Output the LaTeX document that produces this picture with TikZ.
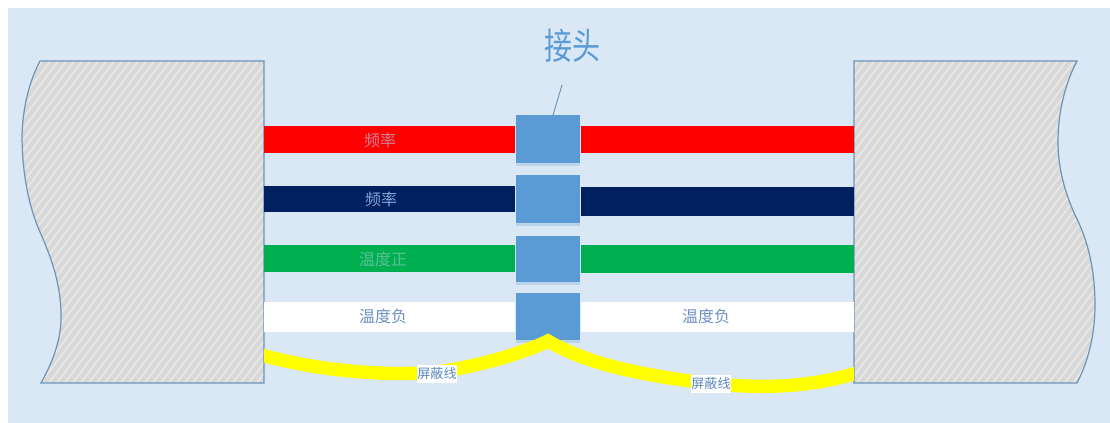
\documentclass[tikz,border=0pt]{standalone}
\usepackage{fontspec}
\newfontfamily\cjk{Noto Sans CJK SC}[Scale=1]
\usetikzlibrary{shadows}
\definecolor{bgc}{HTML}{DAE8F5}
\definecolor{blockc}{HTML}{5B9BD5}
\definecolor{edgec}{HTML}{6E93B8}
\definecolor{hatchbg}{HTML}{D8D8D8}
\definecolor{hatchln}{HTML}{E9E9E7}
\definecolor{navyc}{HTML}{002060}
\definecolor{greenc}{HTML}{00B050}
\definecolor{wirey}{HTML}{FFFF00}
\definecolor{smalltxt}{HTML}{5A88BE}
\newcommand{\boxat}[6]{%
  \node[#6,minimum width={(#4-#2)*0.75pt},minimum height={(#5-#3)*0.75pt}] (#1) at ({(#2+#4)/2},{(#3+#5)/2}) {};}
\tikzset{
  wirebox/.style={rectangle,inner sep=0pt,outer sep=0pt,draw=none},
  blockbox/.style={rectangle,inner sep=0pt,outer sep=0pt,fill=blockc,
    drop shadow={shadow xshift=0pt,shadow yshift=-2pt,fill=blockc,opacity=.25}},
  lab/.style={font=\cjk\fontsize{12pt}{14pt}\selectfont,inner sep=0pt},
  smalllab/.style={font=\cjk\fontsize{9.8pt}{12pt}\selectfont,inner xsep=0.5pt,inner ysep=2.5pt,fill=white,text=smalltxt},
  shield/.style={draw=wirey,line width=10pt,line cap=butt,line join=miter},
  outline/.style={draw=edgec,line width=0.9pt}
}
\begin{document}
\begin{tikzpicture}[x=0.75pt,y=-0.75pt]
\useasboundingbox (0,0) rectangle (1110,423);
\fill[white] (0,0) rectangle (1110,423);
\fill[bgc] (8,8) rectangle (1110,423);
\def\leftshape{(40,61) -- (264,61) -- (264,383) -- (41,383)
  .. controls (55,358) and (62,335) .. (61,312)
  .. controls (60,280) and (50,255) .. (40,232)
  .. controls (28,205) and (22,170) .. (22,135)
  .. controls (23,105) and (30,80) .. (40,61) -- cycle}
\def\rightshape{(854,61) -- (1077,61)
  .. controls (1067,80) and (1058,108) .. (1058,142)
  .. controls (1058,170) and (1066,195) .. (1075,215)
  .. controls (1088,240) and (1095,270) .. (1095,305)
  .. controls (1095,335) and (1088,362) .. (1077,383) -- (854,383) -- cycle}
\fill[hatchbg] \leftshape;
\begin{scope}
\clip \leftshape;
\foreach \i in {0,8,...,640}{\draw[hatchln,line width=1.1pt] ({\i-300},400) -- ++(300,-400);}
\end{scope}
\draw[outline] \leftshape;
\fill[hatchbg] \rightshape;
\begin{scope}
\clip \rightshape;
\foreach \i in {0,8,...,640}{\draw[hatchln,line width=1.1pt] ({\i+540},400) -- ++(300,-400);}
\end{scope}
\draw[outline] \rightshape;
% wires
\boxat{r1}{264}{126}{515}{153}{wirebox,fill=red}
\boxat{r2}{581}{126}{854}{153}{wirebox,fill=red}
\boxat{n1}{264}{186}{515}{212}{wirebox,fill=navyc}
\boxat{n2}{581}{187}{854}{216}{wirebox,fill=navyc}
\boxat{g1}{264}{245}{515}{272}{wirebox,fill=greenc}
\boxat{g2}{581}{245}{854}{273}{wirebox,fill=greenc}
\boxat{w1}{264}{302}{515}{332}{wirebox,fill=white}
\boxat{w2}{581}{302}{854}{332}{wirebox,fill=white}
% connector blocks
\boxat{b1}{516}{115}{580}{163}{blockbox}
\boxat{b2}{516}{175}{580}{223}{blockbox}
\boxat{b3}{516}{236}{580}{282}{blockbox}
\boxat{b4}{516}{293}{580}{340}{blockbox}
% shield wires, trimmed flush with the two end blocks
\coordinate (sl) at (258,354);
\coordinate (peak) at (548,341);
\coordinate (sr) at (860,372);
\begin{scope}
\clip (264,320) rectangle (854,410);
\draw[shield] (sl) .. controls (320,372) and (400,378) .. (450,370)
  .. controls (490,363) and (525,352) .. (peak)
  .. controls (590,366) and (650,376) .. (705,383)
  .. controls (770,390) and (815,386) .. (sr);
\end{scope}
% title
\node[font=\cjk\fontsize{21pt}{25pt}\selectfont,text=blockc,inner sep=0pt,yscale=1.3] (title) at (572,46) {接头};
\coordinate (lead) at (562,85);
\draw[edgec,line width=0.7pt] (lead) -- (b1.north -| 553,0);
% labels
\node[lab,text={rgb,255:red,205;green,130;blue,150}] (t1) at (380,140) {频率};
\node[lab,text={rgb,255:red,130;green,165;blue,215}] (t2) at (381,199) {频率};
\node[lab,text={rgb,255:red,90;green,190;blue,150}] (t3) at (383,259) {温度正};
\node[lab,text={rgb,255:red,110;green,145;blue,195}] (t4) at (383,316) {温度负};
\node[lab,text={rgb,255:red,110;green,145;blue,195}] (t5) at (706,316) {温度负};
\node[smalllab] (t6) at (437,374) {屏蔽线};
\node[smalllab] (t7) at (711,384) {屏蔽线};
\end{tikzpicture}
\end{document}
